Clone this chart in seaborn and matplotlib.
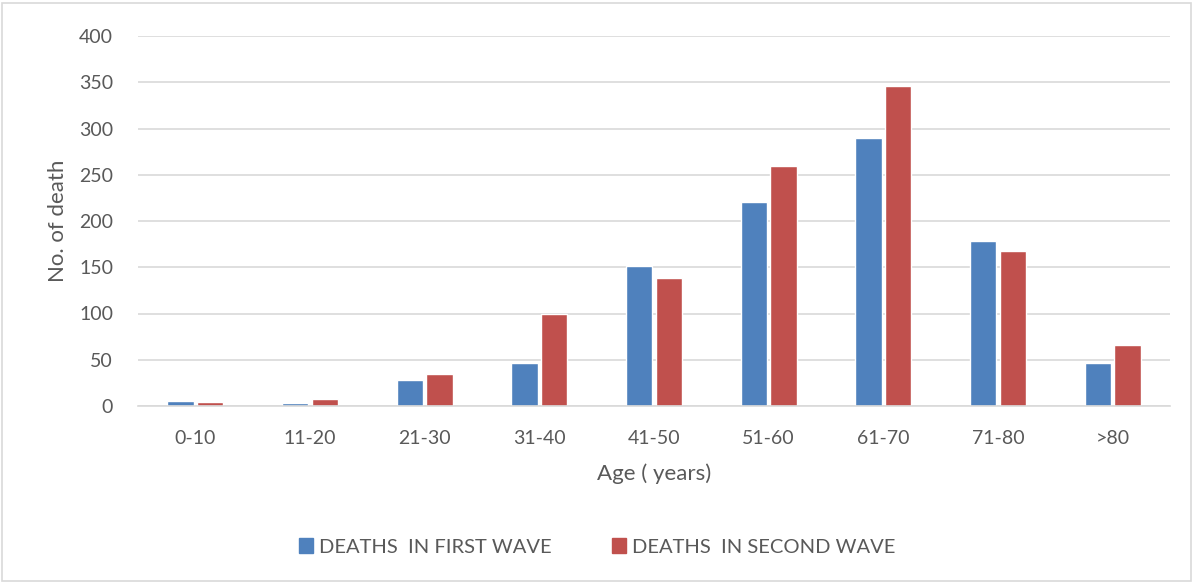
import matplotlib
matplotlib.use("Agg")
import matplotlib.pyplot as plt
import seaborn as sns
import pandas as pd
import numpy as np
from matplotlib.patches import Rectangle

categories = ["0-10", "11-20", "21-30", "31-40", "41-50", "51-60", "61-70", "71-80", ">80"]
first_wave = [5, 3, 28, 47, 151, 221, 290, 178, 46]
second_wave = [4, 8, 35, 99, 138, 260, 346, 168, 66]
series_names = ["DEATHS  IN FIRST WAVE", "DEATHS  IN SECOND WAVE"]
y_ticks = [0, 50, 100, 150, 200, 250, 300, 350, 400]

df = pd.DataFrame({
    "Age": categories * 2,
    "Deaths": first_wave + second_wave,
    "Series": [series_names[0]] * len(categories) + [series_names[1]] * len(categories),
})

sns.set_theme(style="white")
plt.rcParams["font.family"] = ["Lato", "DejaVu Sans"]
text_color = "#595959"

fig = plt.figure(figsize=(11.94, 5.83), dpi=100)
ax = fig.add_axes([138 / 1194, 1 - 406 / 583, (1170 - 138) / 1194, (406 - 36) / 583])

sns.barplot(data=df, x="Age", y="Deaths", hue="Series", order=categories,
            hue_order=series_names, palette=["#4F81BD", "#C0504D"],
            width=0.52, gap=0.12, ax=ax, legend=False, saturation=1)

ax.set_ylim(0, 400)
ax.set_xlim(-0.5, len(categories) - 0.5)
ax.set_yticks(y_ticks)
ax.yaxis.grid(True, color="#D9D9D9", linewidth=1.2)
ax.set_axisbelow(True)
for s in ["top", "right", "left"]:
    ax.spines[s].set_visible(False)
ax.spines["bottom"].set_color("#D9D9D9")
ax.spines["bottom"].set_linewidth(1.2)

ax.tick_params(axis="y", length=0, labelsize=14, labelcolor=text_color, pad=18)
ax.tick_params(axis="x", which="major", length=0, labelsize=14, labelcolor=text_color, pad=17)
ax.set_xticks(np.arange(-0.5, len(categories), 1.0), minor=True)
ax.tick_params(axis="x", which="minor", length=6, color="#D9D9D9", width=1.2)

ax.set_xlabel("Age ( years)", fontsize=16, color=text_color, labelpad=12)
ax.set_ylabel("No. of death", fontsize=16, color=text_color, labelpad=8)

handles = [Rectangle((0, 0), 1, 1, color="#4F81BD"), Rectangle((0, 0), 1, 1, color="#C0504D")]
leg = fig.legend(handles, series_names, loc="center", bbox_to_anchor=(0.5, 1 - 547 / 583),
                 ncol=2, frameon=False, fontsize=14.5, handlelength=0.7, handleheight=0.7,
                 handletextpad=0.3, columnspacing=3.0)
for t in leg.get_texts():
    t.set_color(text_color)

fig.patches.append(Rectangle((2 / 1194, 2 / 583), 1 - 5 / 1194, 1 - 5 / 583,
                             transform=fig.transFigure, fill=False,
                             edgecolor="#D9D9D9", linewidth=1.2))

fig.savefig("out.png", dpi=100)
